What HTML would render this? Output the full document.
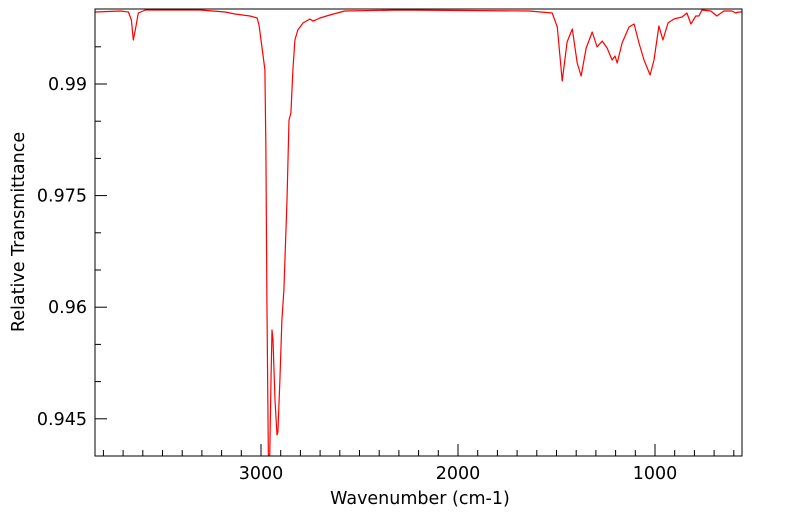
<!DOCTYPE html>
<html><head><meta charset="utf-8"><style>
html,body{margin:0;padding:0;background:#fff;width:799px;height:516px;overflow:hidden}
text{font-family:"DejaVu Sans","Liberation Sans",sans-serif;fill:#000}
</style></head><body>
<svg id="chart" width="799" height="516" viewBox="0 0 799 516" xmlns="http://www.w3.org/2000/svg">
<defs><clipPath id="clip"><rect x="95" y="9" width="647" height="447"/></clipPath></defs>
<g id="axes"></g>
<path id="line" fill="none" stroke="#ff0000" stroke-width="1.2" stroke-linejoin="round" clip-path="url(#clip)"/>
<rect x="95" y="9" width="647" height="447" fill="none" stroke="#000" stroke-width="1"/>
<text x="420" y="504" text-anchor="middle" font-size="17.5">Wavenumber (cm-1)</text>
<text transform="translate(24,232) rotate(-90)" text-anchor="middle" font-size="17.5">Relative Transmittance</text>
</svg>
<script>
const wavenumbers=[3840,3714,3673,3658,3648,3638,3623,3587,3309,3182,3132,3056,3020,3010,3000,2990,2980,2975,2970,2962,2957,2949,2944,2939,2929,2919,2914,2904,2894,2884,2868,2858,2848,2838,2828,2813,2787,2752,2737,2722,2701,2651,2575,2296,1638,1522,1496,1471,1446,1420,1395,1375,1349,1319,1294,1268,1243,1218,1203,1192,1167,1132,1106,1081,1056,1025,1005,980,960,934,904,863,838,818,793,777,762,717,686,651,610,590,575,560];
const transmittance=[0.99968,0.99981,0.99968,0.99860,0.99591,0.99726,0.99954,0.99995,0.99995,0.99968,0.99941,0.99914,0.99887,0.99793,0.99591,0.99390,0.99188,0.98113,0.96097,0.9380,0.9380,0.95022,0.95694,0.95559,0.94753,0.94283,0.94323,0.95022,0.95828,0.96231,0.97441,0.98516,0.98610,0.99188,0.99591,0.99726,0.99820,0.99874,0.99847,0.99860,0.99887,0.99927,0.99981,0.99995,0.99981,0.99954,0.99766,0.99040,0.99564,0.99739,0.99282,0.99108,0.99484,0.99699,0.99497,0.99578,0.99484,0.99323,0.99376,0.99282,0.99551,0.99766,0.99806,0.99551,0.99323,0.99121,0.99323,0.99780,0.99591,0.99820,0.99874,0.99900,0.99954,0.99806,0.99914,0.99914,0.99995,0.99981,0.99914,0.99981,0.99981,0.99954,0.99968,0.99968];
const xMajor=[3000,2000,1000];
const xTickLabels=["3000","2000","1000"];
const yMajor=[0.99,0.975,0.96,0.945];
const yTickLabels=["0.99","0.975","0.96","0.945"];
const X=w=>261+(3000-w)*0.197;
const Y=t=>84+(0.99-t)*7440;
const NS="http://www.w3.org/2000/svg";
const axes=document.getElementById('axes');
function mk(tag,attrs){const e=document.createElementNS(NS,tag);for(const k in attrs)e.setAttribute(k,attrs[k]);return e;}
for(let w=3800;w>=600;w-=100){
  const major=xMajor.includes(w);const x=X(w);
  const l=mk('line',{x1:x,x2:x,y1:456,y2:major?444:450,stroke:'#000','stroke-width':1});
  
  
  axes.appendChild(l);
}
xMajor.forEach((w,i)=>{
  const t=mk('text',{x:X(w),y:479,'text-anchor':'middle','font-size':17.5});t.textContent=xTickLabels[i];
  
  
  axes.appendChild(t);
});
for(let k=0;k<=12;k++){
  const v=1.0-k*0.005;const y=Y(v);if(y<10||y>456)continue;
  const major=yMajor.some(m=>Math.abs(m-v)<1e-6);
  const l=mk('line',{x1:95,x2:major?107:101,y1:y,y2:y,stroke:'#000','stroke-width':1});
  
  
  axes.appendChild(l);
}
yMajor.forEach((v,i)=>{
  const t=mk('text',{x:87,y:Y(v)+6,'text-anchor':'end','font-size':17.5});t.textContent=yTickLabels[i];
  
  
  axes.appendChild(t);
});
let d='';
wavenumbers.forEach((w,i)=>{d+=(i?'L':'M')+X(w).toFixed(1)+','+Y(transmittance[i]).toFixed(1);});
document.getElementById('line').setAttribute('d',d);
</script>
</body></html>
